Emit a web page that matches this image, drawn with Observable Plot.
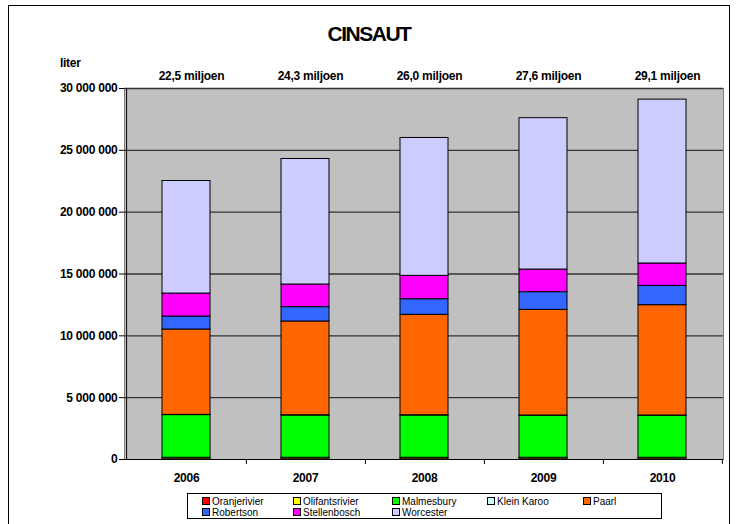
<!DOCTYPE html>
<html><head><meta charset="utf-8">
<script src="https://cdn.jsdelivr.net/npm/d3@7"></script>
<script src="https://cdn.jsdelivr.net/npm/@observablehq/plot@0.6"></script>
<style>
body{margin:0;background:#fff;}
#wrap{position:relative;width:738px;height:524px;overflow:hidden;font-family:"Liberation Sans",Arial,sans-serif;}
#frame{position:absolute;left:8px;top:5px;width:722px;height:560px;border:1px solid #000;box-sizing:border-box;}
#title{position:absolute;left:0;width:738px;top:22px;text-align:center;font-weight:bold;font-size:21px;letter-spacing:-1.5px;}
#unit{position:absolute;left:60px;top:56px;font-weight:bold;font-size:12px;letter-spacing:-0.3px;}
#chart{position:absolute;left:0;top:0;}
#chart svg text{letter-spacing:-0.25px;}
#legend{position:absolute;left:187px;top:493px;width:475px;height:26px;border:1px solid #000;box-sizing:border-box;background:#fff;font-size:10px;}
.item{position:absolute;white-space:nowrap;line-height:10px;}
.sw{display:inline-block;width:6px;height:6px;border:1px solid #000;margin-right:2px;vertical-align:-0px;}
</style></head>
<body>
<div id="wrap">
  <div id="frame"></div>
  <div id="chart"></div>
  <div id="title">CINSAUT</div>
  <div id="unit">liter</div>
  <div id="legend"></div>
</div>
<script>
const years = ["2006","2007","2008","2009","2010"];
const totalLabels = ["22,5 miljoen","24,3 miljoen","26,0 miljoen","27,6 miljoen","29,1 miljoen"];
const regions = ["Oranjerivier","Olifantsrivier","Malmesbury","Klein Karoo","Paarl","Robertson","Stellenbosch","Worcester"];
const colors = ["#FF0000","#FFFF00","#00FF00","#CCFFFF","#FF6600","#3366FF","#FF00FF","#CCCCFF"];
const oranjerivier   = [20000, 20000, 20000, 20000, 20000];
const olifantsrivier = [120000, 120000, 120000, 120000, 120000];
const malmesbury     = [3450000, 3420000, 3420000, 3400000, 3400000];
const kleinKaroo     = [20000, 20000, 20000, 20000, 20000];
const paarl          = [6900000, 7580000, 8120000, 8540000, 8920000];
const robertson      = [1050000, 1160000, 1260000, 1430000, 1560000];
const stellenbosch   = [1860000, 1830000, 1890000, 1830000, 1810000];
const worcester      = [9100000, 10150000, 11150000, 12240000, 13250000];
const yTicks = [0, 5000000, 10000000, 15000000, 20000000, 25000000, 30000000];

const series = [oranjerivier, olifantsrivier, malmesbury, kleinKaroo, paarl, robertson, stellenbosch, worcester];
const rows = [];
years.forEach((y, i) => regions.forEach((r, j) => rows.push({year: y, region: r, value: series[j][i]})));

const W = 738, H = 524;
const mL = 124, mR = 15, mT = 88, mB = 65;
const step = (W - mL - mR) / years.length;
const fmt = d => d3.format(",")(d).replace(/,/g, " ");

const plot = Plot.plot({
  width: W, height: H,
  marginLeft: mL, marginRight: mR, marginTop: mT, marginBottom: mB,
  style: {fontFamily: '"Liberation Sans", Arial, sans-serif', fontSize: "12px", fontWeight: "bold", background: "transparent", color: "#000"},
  x: {type: "band", domain: years, paddingInner: 0.6, paddingOuter: 0.3, label: null},
  y: {domain: [0, 30000000], label: null},
  color: {domain: regions, range: colors},
  marks: [
    Plot.frame({fill: "#C0C0C0", stroke: "#808080", strokeWidth: 1}),
    Plot.ruleY(yTicks.filter(d => d > 0), {stroke: "#333", strokeWidth: 1.3}),
    Plot.barY(rows, {x: "year", y: "value", fill: "region", stroke: "#000", strokeWidth: 1}),
    Plot.ruleY([0], {stroke: "#000", strokeWidth: 1}),
    Plot.ruleX([years[0]], {x: d => d, dx: -step / 2, y1: 0, y2: 30000000, stroke: "#000"}),
    Plot.ruleX(years, {x: d => d, dx: step / 2, y1: 0, y2: 0, insetBottom: -5, stroke: "#000"}),
    Plot.axisY({ticks: yTicks, tickFormat: fmt, tickSize: 5, tickPadding: 2, label: null, fontSize: 12}),
    Plot.axisX({tickSize: 0, tickPadding: 14, label: null, fontSize: 12}),
    Plot.text(years, {x: d => d, text: (d, i) => totalLabels[i], frameAnchor: "top", dy: -17, dx: 5, fontSize: 12, fontWeight: "bold"})
  ]
});
document.getElementById("chart").appendChild(plot);

const legend = document.getElementById("legend");
const colX = [14, 105, 204, 299, 395];
regions.forEach((r, i) => {
  const el = document.createElement("div");
  el.className = "item";
  el.style.left = colX[i % 5] + "px";
  el.style.top = (i < 5 ? 3 : 14) + "px";
  el.innerHTML = `<span class="sw" style="background:${colors[i]}"></span>${r}`;
  legend.appendChild(el);
});
</script>
</body></html>
